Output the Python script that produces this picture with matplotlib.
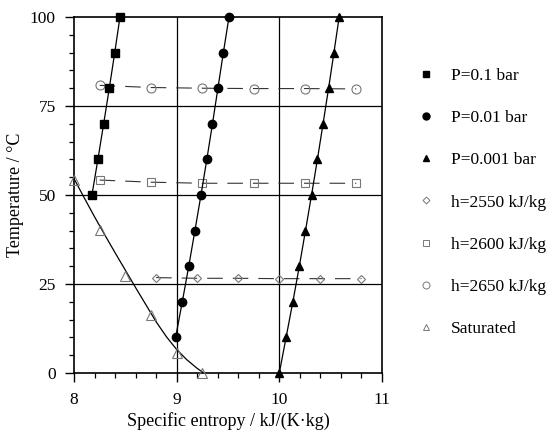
import matplotlib
matplotlib.use("Agg")
import matplotlib.pyplot as plt
from matplotlib.ticker import MultipleLocator
from matplotlib.lines import Line2D

plt.rcParams['font.family'] = ['Liberation Serif', 'DejaVu Serif']
plt.rcParams['mathtext.fontset'] = 'stix'

# Isobars: temperature (°C) and specific entropy (kJ/(K·kg))
t_p01 = [50, 60, 70, 80, 90, 100]
s_p01 = [8.175, 8.233, 8.289, 8.344, 8.397, 8.448]

t_p001 = [10, 20, 30, 40, 50, 60, 70, 80, 90, 100]
s_p001 = [8.990, 9.055, 9.118, 9.178, 9.237, 9.294, 9.349, 9.402, 9.455, 9.510]

t_p0001 = [0, 10, 20, 30, 40, 50, 60, 70, 80, 90, 100]
s_p0001 = [10.000, 10.066, 10.132, 10.195, 10.255, 10.314, 10.371, 10.426, 10.480, 10.532, 10.583]

# Isenthalps
s_h2550 = [8.8, 9.2, 9.6, 10.0, 10.4, 10.8]
t_h2550 = [26.8, 26.6, 26.6, 26.5, 26.5, 26.5]

s_h2600 = [8.25, 8.75, 9.25, 9.75, 10.25, 10.75]
t_h2600 = [54.2, 53.6, 53.3, 53.3, 53.3, 53.3]

s_h2650 = [8.25, 8.75, 9.25, 9.75, 10.25, 10.75]
t_h2650 = [80.8, 80.2, 80.0, 79.9, 79.9, 79.8]

# Saturated vapour: sample points and the saturation curve
s_sat = [8.0, 8.25, 8.5, 8.75, 9.0, 9.25]
t_sat = [54.1, 40.2, 27.3, 16.3, 5.5, 0.0]

s_sat_curve = [8.00, 8.10, 8.20, 8.30, 8.40, 8.50, 8.60, 8.70, 8.80, 8.90, 9.00, 9.10, 9.20, 9.25]
t_sat_curve = [54.6, 49.2, 43.9, 38.8, 33.8, 28.9, 24.0, 19.2, 14.4, 10.2, 6.6, 3.7, 1.3, 0.3]

labels = ["P=0.1 bar", "P=0.01 bar", "P=0.001 bar",
          "h=2550 kJ/kg", "h=2600 kJ/kg", "h=2650 kJ/kg", "Saturated"]

fig = plt.figure(figsize=(5.5, 4.32), dpi=100)
ax = fig.add_axes([0.1345, 0.1366, 0.56, 0.824])

grey = '#777777'
dash_col = '#333333'

# grid
for xv in [9, 10]:
    ax.axvline(xv, color='black', lw=0.9, zorder=1)
for yv in [25, 50, 75]:
    ax.axhline(yv, color='black', lw=0.9, zorder=1)

# isenthalps
dash = (0, (14, 9))
for s, t, m, ms in [(s_h2550, t_h2550, 'D', 4.0), (s_h2600, t_h2600, 's', 6.0),
                    (s_h2650, t_h2650, 'o', 6.5)]:
    ax.plot(s, t, color=dash_col, lw=0.8, linestyle=dash, zorder=2)
    ax.plot(s, t, linestyle='none', marker=m, ms=ms, mfc='none', mec=grey,
            mew=0.8, zorder=3)

# saturation curve
ax.plot(s_sat_curve, t_sat_curve, color='black', lw=0.9, zorder=2, clip_on=False)
ax.plot(s_sat, t_sat, linestyle='none', marker='^', ms=6.5, mfc='none', mec=grey,
        mew=0.8, zorder=3, clip_on=False)

# isobars
for s, t, m, ms in [(s_p01, t_p01, 's', 5.5), (s_p001, t_p001, 'o', 6.0),
                    (s_p0001, t_p0001, '^', 6.0)]:
    ax.plot(s, t, color='black', lw=0.9, marker=m, ms=ms, mfc='black', mec='black',
            zorder=4, clip_on=False)

ax.set_xlim(8, 11)
ax.set_ylim(0, 100)
ax.xaxis.set_major_locator(MultipleLocator(1))
ax.xaxis.set_minor_locator(MultipleLocator(0.2))
ax.yaxis.set_major_locator(MultipleLocator(25))
ax.yaxis.set_minor_locator(MultipleLocator(5))
ax.tick_params(which='major', direction='out', length=6.5, width=1.0, labelsize=12.5)
ax.tick_params(axis='x', which='major', pad=7)
ax.tick_params(axis='y', which='major', pad=6.5)
ax.tick_params(which='minor', direction='out', length=3.8, width=0.9)
for sp in ax.spines.values():
    sp.set_linewidth(1.2)

ax.set_xlabel("Specific entropy / kJ/(K\u00b7kg)", fontsize=13, labelpad=3)
ax.set_ylabel("Temperature / \u00b0C", fontsize=13, labelpad=4)

handles = [
    Line2D([], [], ls='none', marker='s', ms=4.5, mfc='black', mec='black'),
    Line2D([], [], ls='none', marker='o', ms=5, mfc='black', mec='black'),
    Line2D([], [], ls='none', marker='^', ms=5, mfc='black', mec='black'),
    Line2D([], [], ls='none', marker='D', ms=3.5, mfc='none', mec=grey, mew=0.7),
    Line2D([], [], ls='none', marker='s', ms=5, mfc='none', mec=grey, mew=0.7),
    Line2D([], [], ls='none', marker='o', ms=5, mfc='none', mec=grey, mew=0.7),
    Line2D([], [], ls='none', marker='^', ms=5, mfc='none', mec=grey, mew=0.7),
]
fig.legend(handles, labels, loc='upper left', bbox_to_anchor=(0.758, 0.843),
           frameon=False, fontsize=12.5, handlelength=1.0, handletextpad=0.95,
           labelspacing=1.5, borderpad=0, borderaxespad=0)

fig.savefig("out.png", dpi=100)
